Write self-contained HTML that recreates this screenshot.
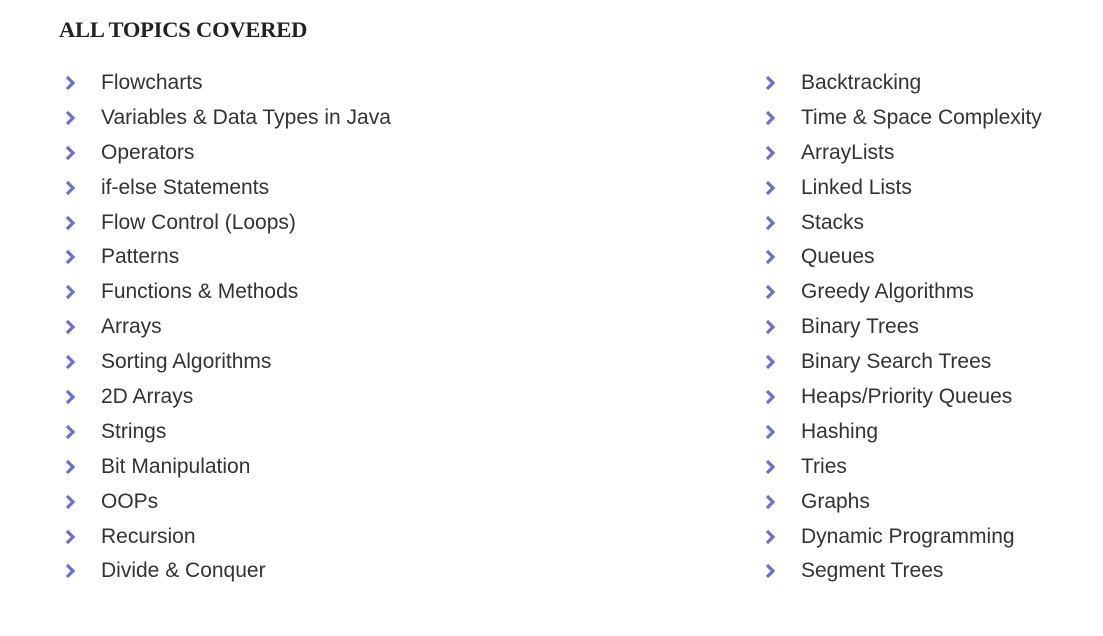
<!DOCTYPE html>
<html><head><meta charset="utf-8"><style>
html,body{margin:0;padding:0;background:#fff;width:1103px;height:636px;overflow:hidden}
h1{position:absolute;left:59px;top:15px;margin:0;font:bold 22.5px/30px "Liberation Serif",serif;color:#222;letter-spacing:-0.2px}
ul{position:absolute;top:66px;margin:0;padding:0;list-style:none}
li{height:34.9px;font:21px/34.9px "Liberation Sans",sans-serif;color:#333;position:relative;padding-left:42px;white-space:nowrap}
li svg{position:absolute;left:5px;top:9px}
#l{left:59px}#r{left:759px}
</style></head><body>
<h1>ALL TOPICS COVERED</h1>
<ul id="l">
<li><svg width="12" height="16"><path d="M3 2 L9 8 L3 14" stroke="#6b6fcf" stroke-width="3.2" fill="none"/></svg>Flowcharts</li>
<li><svg width="12" height="16"><path d="M3 2 L9 8 L3 14" stroke="#6b6fcf" stroke-width="3.2" fill="none"/></svg>Variables &amp; Data Types in Java</li>
<li><svg width="12" height="16"><path d="M3 2 L9 8 L3 14" stroke="#6b6fcf" stroke-width="3.2" fill="none"/></svg>Operators</li>
<li><svg width="12" height="16"><path d="M3 2 L9 8 L3 14" stroke="#6b6fcf" stroke-width="3.2" fill="none"/></svg>if-else Statements</li>
<li><svg width="12" height="16"><path d="M3 2 L9 8 L3 14" stroke="#6b6fcf" stroke-width="3.2" fill="none"/></svg>Flow Control (Loops)</li>
<li><svg width="12" height="16"><path d="M3 2 L9 8 L3 14" stroke="#6b6fcf" stroke-width="3.2" fill="none"/></svg>Patterns</li>
<li><svg width="12" height="16"><path d="M3 2 L9 8 L3 14" stroke="#6b6fcf" stroke-width="3.2" fill="none"/></svg>Functions &amp; Methods</li>
<li><svg width="12" height="16"><path d="M3 2 L9 8 L3 14" stroke="#6b6fcf" stroke-width="3.2" fill="none"/></svg>Arrays</li>
<li><svg width="12" height="16"><path d="M3 2 L9 8 L3 14" stroke="#6b6fcf" stroke-width="3.2" fill="none"/></svg>Sorting Algorithms</li>
<li><svg width="12" height="16"><path d="M3 2 L9 8 L3 14" stroke="#6b6fcf" stroke-width="3.2" fill="none"/></svg>2D Arrays</li>
<li><svg width="12" height="16"><path d="M3 2 L9 8 L3 14" stroke="#6b6fcf" stroke-width="3.2" fill="none"/></svg>Strings</li>
<li><svg width="12" height="16"><path d="M3 2 L9 8 L3 14" stroke="#6b6fcf" stroke-width="3.2" fill="none"/></svg>Bit Manipulation</li>
<li><svg width="12" height="16"><path d="M3 2 L9 8 L3 14" stroke="#6b6fcf" stroke-width="3.2" fill="none"/></svg>OOPs</li>
<li><svg width="12" height="16"><path d="M3 2 L9 8 L3 14" stroke="#6b6fcf" stroke-width="3.2" fill="none"/></svg>Recursion</li>
<li><svg width="12" height="16"><path d="M3 2 L9 8 L3 14" stroke="#6b6fcf" stroke-width="3.2" fill="none"/></svg>Divide &amp; Conquer</li>
</ul>
<ul id="r">
<li><svg width="12" height="16"><path d="M3 2 L9 8 L3 14" stroke="#6b6fcf" stroke-width="3.2" fill="none"/></svg>Backtracking</li>
<li><svg width="12" height="16"><path d="M3 2 L9 8 L3 14" stroke="#6b6fcf" stroke-width="3.2" fill="none"/></svg>Time &amp; Space Complexity</li>
<li><svg width="12" height="16"><path d="M3 2 L9 8 L3 14" stroke="#6b6fcf" stroke-width="3.2" fill="none"/></svg>ArrayLists</li>
<li><svg width="12" height="16"><path d="M3 2 L9 8 L3 14" stroke="#6b6fcf" stroke-width="3.2" fill="none"/></svg>Linked Lists</li>
<li><svg width="12" height="16"><path d="M3 2 L9 8 L3 14" stroke="#6b6fcf" stroke-width="3.2" fill="none"/></svg>Stacks</li>
<li><svg width="12" height="16"><path d="M3 2 L9 8 L3 14" stroke="#6b6fcf" stroke-width="3.2" fill="none"/></svg>Queues</li>
<li><svg width="12" height="16"><path d="M3 2 L9 8 L3 14" stroke="#6b6fcf" stroke-width="3.2" fill="none"/></svg>Greedy Algorithms</li>
<li><svg width="12" height="16"><path d="M3 2 L9 8 L3 14" stroke="#6b6fcf" stroke-width="3.2" fill="none"/></svg>Binary Trees</li>
<li><svg width="12" height="16"><path d="M3 2 L9 8 L3 14" stroke="#6b6fcf" stroke-width="3.2" fill="none"/></svg>Binary Search Trees</li>
<li><svg width="12" height="16"><path d="M3 2 L9 8 L3 14" stroke="#6b6fcf" stroke-width="3.2" fill="none"/></svg>Heaps/Priority Queues</li>
<li><svg width="12" height="16"><path d="M3 2 L9 8 L3 14" stroke="#6b6fcf" stroke-width="3.2" fill="none"/></svg>Hashing</li>
<li><svg width="12" height="16"><path d="M3 2 L9 8 L3 14" stroke="#6b6fcf" stroke-width="3.2" fill="none"/></svg>Tries</li>
<li><svg width="12" height="16"><path d="M3 2 L9 8 L3 14" stroke="#6b6fcf" stroke-width="3.2" fill="none"/></svg>Graphs</li>
<li><svg width="12" height="16"><path d="M3 2 L9 8 L3 14" stroke="#6b6fcf" stroke-width="3.2" fill="none"/></svg>Dynamic Programming</li>
<li><svg width="12" height="16"><path d="M3 2 L9 8 L3 14" stroke="#6b6fcf" stroke-width="3.2" fill="none"/></svg>Segment Trees</li>
</ul>
</body></html>
